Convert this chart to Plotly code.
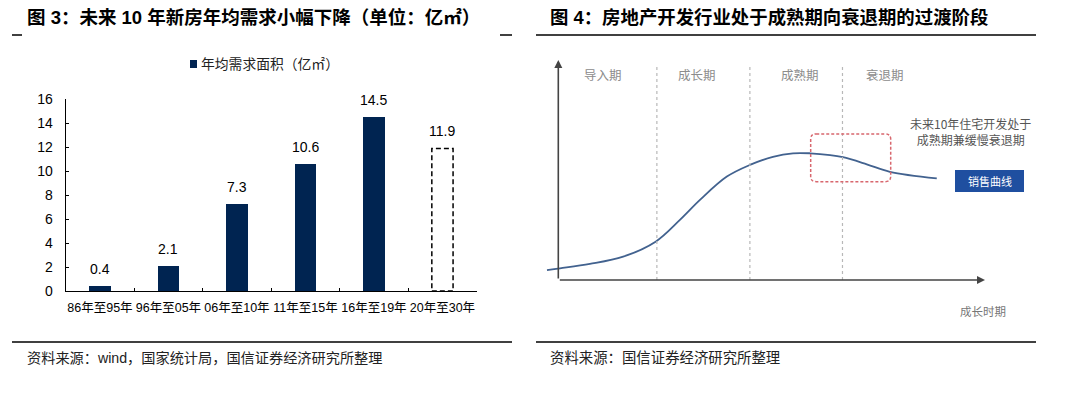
import plotly.graph_objects as go

W, H = 1069, 397

# ---------------- data: left chart ----------------
categories = ["86年至95年", "96年至05年", "06年至10年", "11年至15年", "16年至19年", "20年至30年"]
demand = [0.4, 2.1, 7.3, 10.6, 14.5, 11.9]
n_actual = 5                      # last category is a forecast (dashed outline)
y_ticks = [0, 2, 4, 6, 8, 10, 12, 14, 16]
series_name = "年均需求面积（亿㎡）"

# ---------------- data: right diagram (conceptual life-cycle curve) ----------------
phase_names = ["导入期", "成长期", "成熟期", "衰退期"]
phase_label_t = [10.5, 32.5, 56.6, 76.5]
phase_bounds = [23.1, 44.9, 66.6]
curve_t = [-2.65, 0.4, 7.4, 15.2, 22.8, 28.5, 33.2, 39.5, 44.9, 50.3, 55.0, 59.0, 63.7, 66.7, 72.3, 77.7, 88.7]
curve_v = [4.5, 5.3, 7.3, 10.6, 17.4, 27.3, 36.4, 47.0, 52.3, 56.0, 57.6, 57.6, 56.8, 55.8, 52.6, 49.2, 46.2]
focus_t = [59.15, 77.9]
focus_v = [44.7, 66.4]

NAVY = "#002451"
FONT = "Liberation Sans, Arial, Noto Sans CJK SC, sans-serif"
CJK = "Noto Sans CJK SC, sans-serif"


def px(x):
    return x / W


def py(y):
    return 1 - y / H


def label(x, y, text, size, color="#222222", family=CJK, xanchor="center"):
    return dict(x=px(x), y=py(y), xref="paper", yref="paper", text=text, showarrow=False,
                xanchor=xanchor, yanchor="middle", align="center",
                font=dict(family=family, size=size, color=color))


fig = go.Figure()

bar_w = 0.31
fig.add_trace(go.Bar(
    x=categories[:n_actual], y=demand[:n_actual], width=bar_w,
    marker=dict(color=NAVY, line=dict(width=0)),
    name=series_name, showlegend=False, xaxis="x", yaxis="y", hoverinfo="skip",
))
fig.add_trace(go.Bar(
    x=categories[n_actual:], y=demand[n_actual:], width=bar_w,
    marker=dict(color="white", line=dict(width=0)),
    showlegend=False, xaxis="x", yaxis="y", hoverinfo="skip",
))

shapes = []
annotations = []

for i in range(n_actual, len(categories)):
    shapes.append(dict(type="rect", xref="x", yref="y",
                       x0=i - bar_w / 2, x1=i + bar_w / 2, y0=0, y1=demand[i],
                       line=dict(color="black", width=1.5, dash="5px,3px"),
                       fillcolor="rgba(0,0,0,0)"))

for c, v in zip(categories, demand):
    annotations.append(dict(x=c, y=v, xref="x", yref="y", text=f"{v:.1f}",
                            showarrow=False, xanchor="center", yanchor="middle", yshift=17,
                            font=dict(family=FONT, size=14, color="black")))

fig.add_trace(go.Scatter(
    x=curve_t, y=curve_v, mode="lines",
    line=dict(color="#42628f", width=1.8, shape="spline", smoothing=1.0),
    showlegend=False, xaxis="x2", yaxis="y2", hoverinfo="skip",
))

for b in phase_bounds:
    shapes.append(dict(type="line", xref="x2", yref="y2", x0=b, x1=b, y0=0, y1=97.7,
                       line=dict(color="#b8b8b8", width=1.2, dash="3px,3px")))
for name, t in zip(phase_names, phase_label_t):
    annotations.append(dict(x=t, y=93.2, xref="x2", yref="y2", text=name, showarrow=False,
                            xanchor="center", yanchor="middle",
                            font=dict(family=CJK, size=12.5, color="#8c8c8c")))

x0, x1 = focus_t
y0, y1 = focus_v
rx, ry = 1.3, 2.4
path = (f"M {x0+rx},{y1} L {x1-rx},{y1} Q {x1},{y1} {x1},{y1-ry} "
        f"L {x1},{y0+ry} Q {x1},{y0} {x1-rx},{y0} L {x0+rx},{y0} "
        f"Q {x0},{y0} {x0},{y0+ry} L {x0},{y1-ry} Q {x0},{y1} {x0+rx},{y1} Z")
shapes.append(dict(type="path", xref="x2", yref="y2", path=path,
                   line=dict(color="#d8676e", width=1.5, dash="3px,2px")))

annotations.append(dict(x=0, y=100, ax=0, ay=0, xref="x2", yref="y2", axref="x2", ayref="y2",
                        showarrow=True, arrowhead=2, arrowsize=1, arrowwidth=1.6,
                        arrowcolor="#444444", text=""))
annotations.append(dict(x=100, y=0, ax=0, ay=0, xref="x2", yref="y2", axref="x2", ayref="y2",
                        showarrow=True, arrowhead=2, arrowsize=1, arrowwidth=1.6,
                        arrowcolor="#444444", text=""))

annotations.append(label(970, 131, "未来10年住宅开发处于<br>成熟期兼缓慢衰退期", 12, "#555555"))
shapes.append(dict(type="rect", xref="paper", yref="paper", x0=px(955), x1=px(1024),
                   y0=py(192), y1=py(170), fillcolor="#1f4fa0", line=dict(width=0)))
annotations.append(label(989.5, 181, "销售曲线", 11, "white"))
annotations.append(label(983, 311, "成长时期", 11.5, "#777777"))

shapes.append(dict(type="rect", xref="paper", yref="paper", x0=px(190), x1=px(197),
                   y0=py(68), y1=py(60), fillcolor=NAVY, line=dict(width=0)))
annotations.append(label(199, 63, series_name, 13.8, "#222222", xanchor="left"))

annotations.append(label(25, 17, "<b>图 3：未来 10 年新房年均需求小幅下降（单位：亿㎡）</b>", 18.5,
                         "black", FONT, "left"))
annotations.append(label(548, 17, "<b>图 4：房地产开发行业处于成熟期向衰退期的过渡阶段</b>", 18.4,
                         "black", FONT, "left"))

annotations.append(label(25, 358, "资料来源：wind，国家统计局，国信证券经济研究所整理", 14.2,
                         "#222222", FONT, "left"))
annotations.append(label(548, 358, "资料来源：国信证券经济研究所整理", 14.4, "#222222", FONT, "left"))

for (a, b, y) in [(12, 22, 35), (500, 512, 35), (536, 1036, 35), (12, 512, 342), (536, 1036, 342)]:
    shapes.append(dict(type="line", xref="paper", yref="paper", x0=px(a), x1=px(b),
                       y0=py(y), y1=py(y), line=dict(color="black", width=1.5)))

t_per_px = 100 / (985 - 558.3)
v_per_px = 100 / (280 - 60)
dx0, dx1 = 545, 990
dy0, dy1 = 285, 55

fig.update_layout(
    width=W, height=H, autosize=False,
    margin=dict(l=0, r=0, t=0, b=0),
    paper_bgcolor="white", plot_bgcolor="white",
    showlegend=False, bargap=0,
    xaxis=dict(domain=[px(65.7), px(476.7)], anchor="y", type="category",
               range=[-0.5, len(categories) - 0.5], showline=True, linecolor="black", linewidth=1,
               ticks="inside", tickson="boundaries", ticklen=3, tickcolor="black", tickangle=0,
               showgrid=False, tickfont=dict(family=FONT, size=12.5, color="black"),
               ticklabelstandoff=5, automargin=False),
    yaxis=dict(domain=[py(291), py(99.3)], anchor="x", range=[0, 16], tickvals=y_ticks,
               showline=True, linecolor="black", linewidth=1, ticks="inside", ticklen=3,
               tickcolor="black", showgrid=False, zeroline=False,
               tickfont=dict(family=FONT, size=14, color="black"), ticklabelstandoff=9,
               automargin=False),
    xaxis2=dict(domain=[px(dx0), px(dx1)], anchor="y2",
                range=[(dx0 - 558.3) * t_per_px, (dx1 - 558.3) * t_per_px],
                visible=False, showgrid=False, zeroline=False),
    yaxis2=dict(domain=[py(dy0), py(dy1)], anchor="x2",
                range=[(280 - dy0) * v_per_px, (280 - dy1) * v_per_px],
                visible=False, showgrid=False, zeroline=False),
    shapes=shapes,
    annotations=annotations,
)

fig.write_html(
    "out.html",
    config={"displayModeBar": False, "staticPlot": True},
    post_script=(
        "var gd=document.getElementById('{plot_id}');"
        "gd.style.position='fixed';gd.style.top='0px';gd.style.left='0px';"
        "document.documentElement.style.margin='0';document.documentElement.style.padding='0';"
        "document.body.style.margin='0';document.body.style.padding='0';"
        "document.documentElement.style.overflow='hidden';document.body.style.overflow='hidden';"
    ),
)
